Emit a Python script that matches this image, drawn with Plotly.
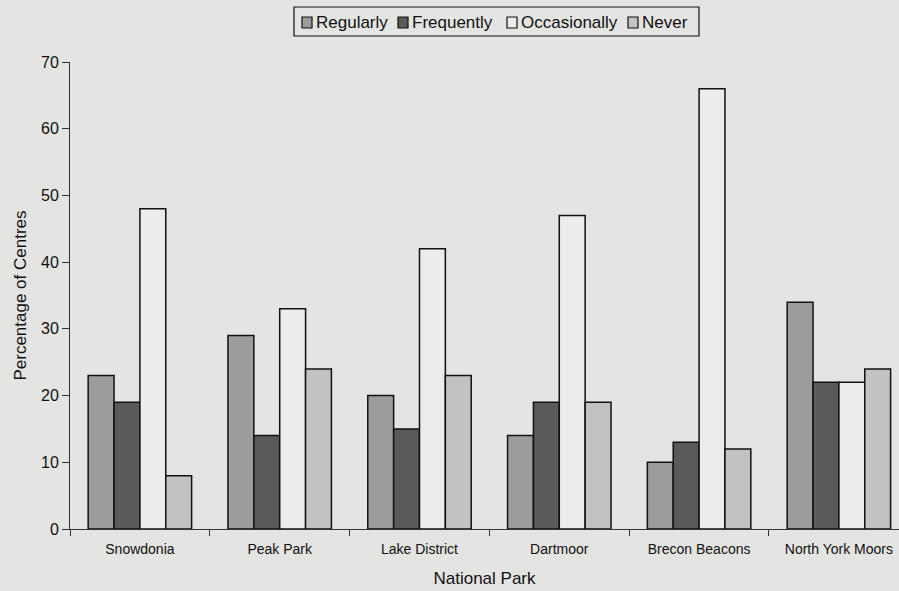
import plotly.graph_objects as go

parks = ["Snowdonia", "Peak Park", "Lake District", "Dartmoor", "Brecon Beacons", "North York Moors"]
regularly = [23, 29, 20, 14, 10, 34]
frequently = [19, 14, 15, 19, 13, 22]
occasionally = [48, 33, 42, 47, 66, 22]
never = [8, 24, 23, 19, 12, 24]

series = [
    ("Regularly", regularly, "#9c9c9c"),
    ("Frequently", frequently, "#5a5a5a"),
    ("Occasionally", occasionally, "#ececec"),
    ("Never", never, "#c2c2c2"),
]

W, H = 899, 591
ML, MR, MT, MB = 70, 0, 62, 62
PW, PH = W - ML - MR, H - MT - MB
paper = "#e4e4e2"

fig = go.Figure()
for name, vals, color in series:
    fig.add_trace(go.Bar(
        x=parks, y=vals, name=name, showlegend=False,
        marker=dict(color=color, line=dict(color="#111111", width=1.5)),
    ))

# Compact boxed key across the top: pixel positions -> plot-area paper fractions
def px(x):
    return (x - ML) / PW

def py(y):
    return (H - MB - y) / PH

shapes = [dict(type="rect", xref="paper", yref="paper", layer="above",
               x0=px(294), x1=px(699), y0=py(36), y1=py(7),
               line=dict(color="#111111", width=1.2), fillcolor=paper)]
annotations = []
key_x = [302, 398, 507, 628]
for (name, _, color), kx in zip(series, key_x):
    shapes.append(dict(type="rect", xref="paper", yref="paper", layer="above",
                       x0=px(kx), x1=px(kx + 10), y0=py(28), y1=py(17),
                       fillcolor=color, line=dict(color="#111111", width=1.2)))
    annotations.append(dict(xref="paper", yref="paper", x=px(kx + 12), y=py(22.5),
                            xanchor="left", yanchor="middle", showarrow=False,
                            text=name, font=dict(size=17, family="Liberation Sans, Arial", color="#111111")))

fig.update_layout(
    width=W, height=H,
    paper_bgcolor=paper, plot_bgcolor=paper,
    barmode="group", bargap=0.26, bargroupgap=0,
    margin=dict(l=ML, r=MR, t=MT, b=MB),
    font=dict(family="Liberation Sans, Arial", color="#111111"),
    shapes=shapes, annotations=annotations,
    xaxis=dict(
        range=[-0.5, 5.43], showgrid=False, showline=True, linecolor="#333333", linewidth=1,
        ticks="outside", tickson="boundaries", ticklen=6, tickcolor="#333333",
        ticklabelstandoff=7,
        tickfont=dict(size=14, family="Liberation Sans Narrow, Arial Narrow, Liberation Sans"),
        title=dict(text="National Park", font=dict(size=17), standoff=16),
    ),
    yaxis=dict(
        range=[0, 70], dtick=10, showgrid=False, zeroline=False,
        showline=True, linecolor="#333333", linewidth=1,
        ticks="outside", ticklen=7, tickcolor="#333333",
        tickfont=dict(size=16), title=dict(text="Percentage of Centres", font=dict(size=17), standoff=10),
    ),
)

fig.write_html("out.html")
